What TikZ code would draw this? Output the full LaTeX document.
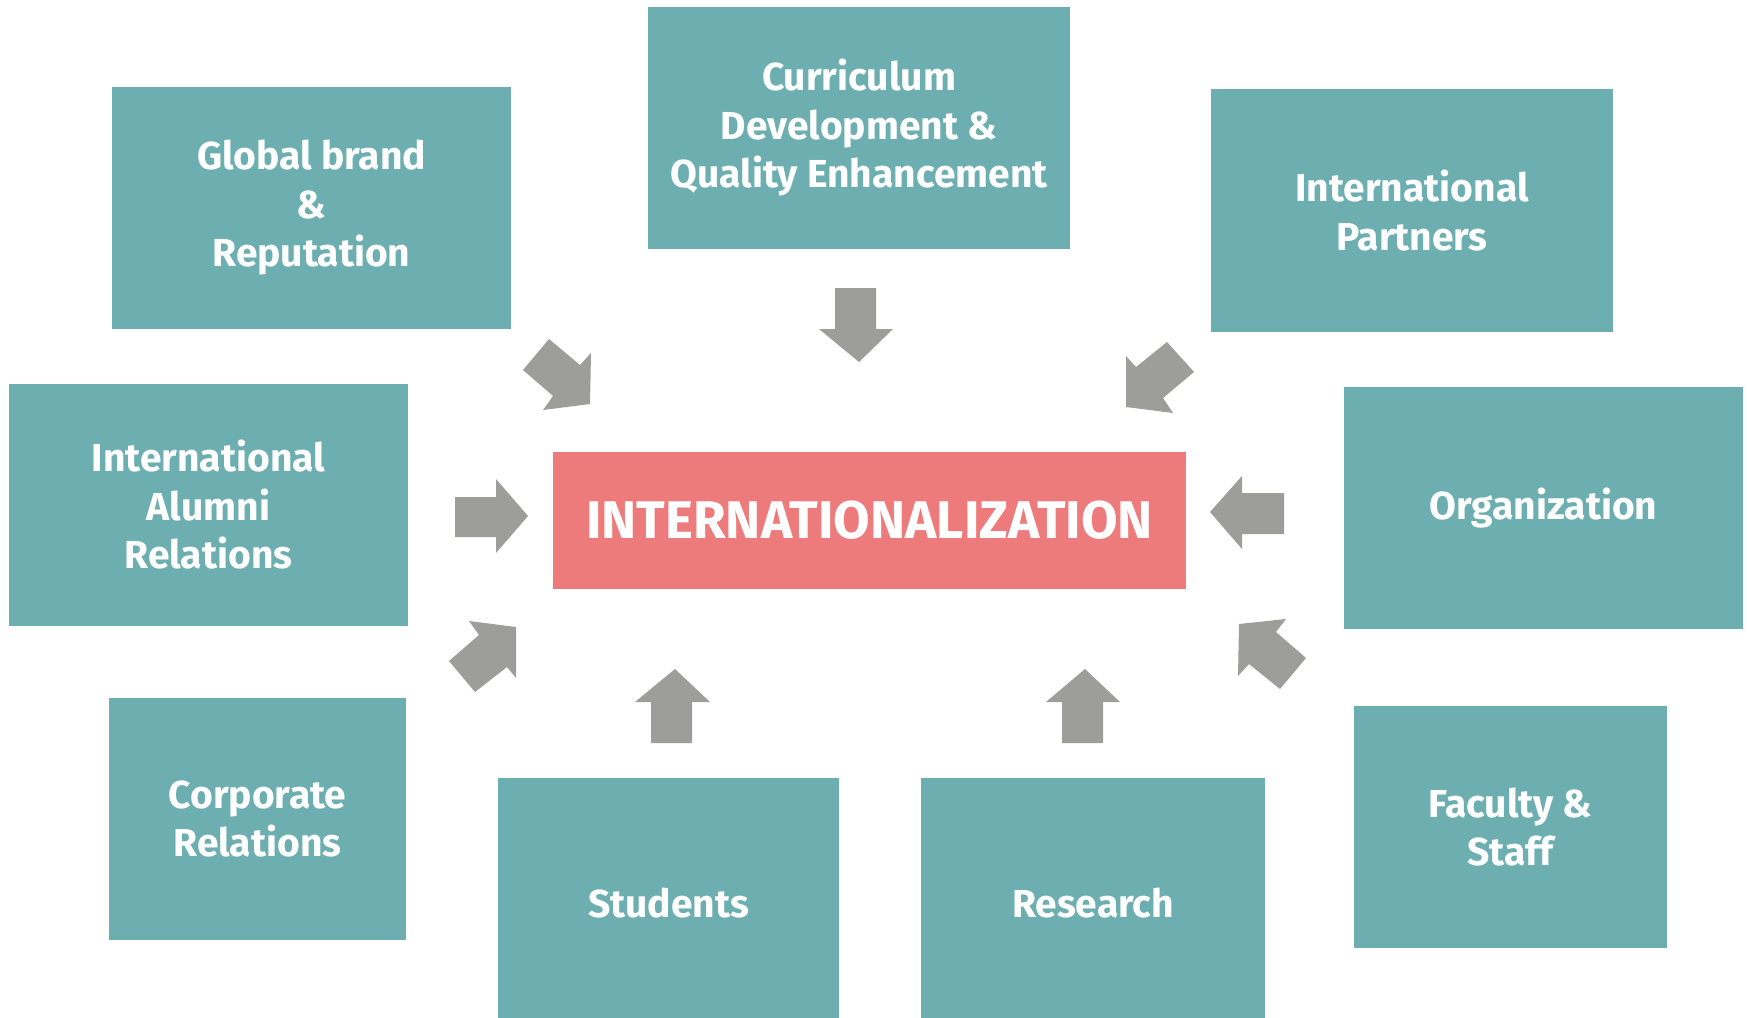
\documentclass[tikz,border=0pt]{standalone}
\usepackage{fontspec}
\setmainfont{Fira Sans}
\definecolor{teal1}{HTML}{6DAFB0}
\definecolor{red1}{HTML}{EE7B7B}
\definecolor{gray1}{HTML}{9D9D9C}
\tikzset{
  box/.style={fill=teal1, draw=none, inner sep=0pt, align=center, text=white,
    font=\fontsize{39}{48.5}\selectfont\bfseries},
  hub/.style={fill=red1, draw=none, inner sep=0pt, align=center, text=white,
    font=\fontsize{53}{60}\selectfont\bfseries},
  garrow/.style={fill=gray1, draw=none}
}
\begin{document}
\begin{tikzpicture}[x=1pt,y=-1pt]
\useasboundingbox (0,0) rectangle (1747,1017);
\fill[white] (0,0) rectangle (1747,1017);
\node[box, minimum width=399, minimum height=242] (glob) at (311.5,208) {Global brand\\\&\\Reputation};
\node[box, minimum width=422, minimum height=242] (curr) at (859,128) {Curriculum\\Development \&\\Quality Enhancement};
\node[box, minimum width=402, minimum height=243] (partn) at (1412,210.5) {International\\Partners};
\node[box, minimum width=399, minimum height=242] (alum) at (208.5,505) {International\\Alumni\\Relations};
\node[box, minimum width=399, minimum height=242] (orga) at (1543.5,508) {Organization};
\node[box, minimum width=297, minimum height=242] (corp) at (257.5,819) {Corporate\\Relations};
\node[box, minimum width=341, minimum height=250] (stud) at (668.5,903) {Students};
\node[box, minimum width=344, minimum height=250] (rese) at (1093,903) {Research};
\node[box, minimum width=313, minimum height=242] (facu) at (1510.5,827) {Faculty \&\\Staff};
\node[hub, minimum width=633, minimum height=137] (hub) at (869.5,520.5) {INTERNATIONALIZATION};
% block arrows
\fill[garrow] (835,288) -- (876,288) -- (876,329) -- (893,329) -- (859,362) -- (819,329) -- (835,329) -- cycle;
\fill[garrow] (523,370) -- (549,339) -- (580,365) -- (591,353) -- (590,404) -- (543,410) -- (553,396) -- cycle;
\fill[garrow] (1136,367) -- (1167,342) -- (1194,372) -- (1163,398) -- (1173,413) -- (1126,407) -- (1126,356) -- cycle;
\fill[garrow] (455,497) -- (496,497) -- (496,479) -- (528,516) -- (496,553) -- (496,537) -- (455,537) -- cycle;
\fill[garrow] (1284,493) -- (1242,493) -- (1242,476) -- (1210,512) -- (1242,549) -- (1242,534) -- (1284,534) -- cycle;
\fill[garrow] (469,621) -- (516,627) -- (516,678) -- (507,667) -- (475,692) -- (449,661) -- (479,635) -- cycle;
\fill[garrow] (651,743) -- (651,702) -- (635,702) -- (675,669) -- (710,702) -- (692,702) -- (692,743) -- cycle;
\fill[garrow] (1062,743) -- (1062,702) -- (1046,702) -- (1085,669) -- (1120,702) -- (1103,702) -- (1103,743) -- cycle;
\fill[garrow] (1239,624) -- (1286,619) -- (1276,632) -- (1306,658) -- (1280,689) -- (1249,664) -- (1238,676) -- cycle;
\end{tikzpicture}
\end{document}
